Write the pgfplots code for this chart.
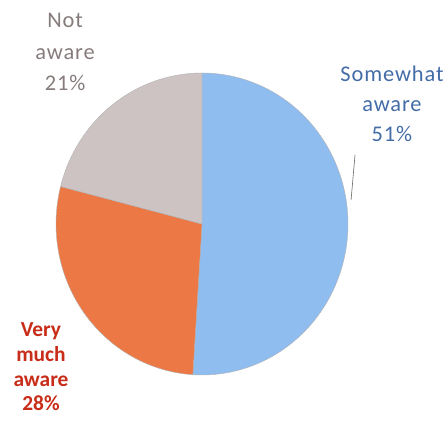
\documentclass[border=0pt]{standalone}
\usepackage{fontspec}
\setmainfont{Carlito}
\usepackage{pgfplots}
\usepackage{pgfplotstable}
\pgfplotsset{compat=1.18}
\definecolor{pieblue}{RGB}{143,189,240}
\definecolor{pieorange}{RGB}{236,120,70}
\definecolor{piegray}{RGB}{205,195,195}
\definecolor{txtblue}{RGB}{68,108,166}
\definecolor{txtred}{RGB}{200,45,25}
\definecolor{txtgray}{RGB}{135,124,124}
\pgfplotstableread{
label value
Somewhat 51
Very 28
Not 21
}\piedata
\tikzset{lblr/.style={anchor=base, font=\fontsize{22.5}{24}\selectfont\addfontfeature{LetterSpace=4}},
         lblb/.style={anchor=base, font=\fontsize{21.5}{23}\selectfont\bfseries}}
\begin{document}
\begin{tikzpicture}
\pgfplotstablegetelem{0}{value}\of\piedata \pgfmathsetmacro\va{\pgfplotsretval}
\pgfplotstablegetelem{1}{value}\of\piedata \pgfmathsetmacro\vb{\pgfplotsretval}
\pgfplotstablegetelem{2}{value}\of\piedata \pgfmathsetmacro\vc{\pgfplotsretval}
\pgfmathsetmacro\aA{90-3.6*\va}
\pgfmathsetmacro\aB{\aA-3.6*\vb}
\pgfmathsetmacro\aC{\aB-3.6*\vc}
\begin{axis}[
  x=146bp, y=151bp,
  xmin=-1.3836, xmax=1.6849, ymin=-1.3377, ymax=1.4834,
  enlargelimits=false, hide axis, clip=false,
]
\path (rel axis cs:0,0) rectangle (rel axis cs:1,1);
\addplot[fill=pieblue, draw=black!30, line width=0.4pt, domain=\aA:90, samples=120, variable=\t]
  ({cos(\t)},{sin(\t)}) -- (axis cs:0,0) -- cycle;
\addplot[fill=pieorange, draw=black!30, line width=0.4pt, domain=\aB:\aA, samples=80, variable=\t]
  ({cos(\t)},{sin(\t)}) -- (axis cs:0,0) -- cycle;
\addplot[fill=piegray, draw=black!30, line width=0.4pt, domain=\aC:\aB, samples=60, variable=\t]
  ({cos(\t)},{sin(\t)}) -- (axis cs:0,0) -- cycle;
\draw[black!60, line width=0.6pt] (axis cs:1.048,0.457) -- (axis cs:1.021,0.159);
\node[lblr, text=txtgray] at (axis cs:-0.938,1.298) {Not};
\node[lblr, text=txtgray] at (axis cs:-0.938,1.086) {aware};
\node[lblr, text=txtgray] at (axis cs:-0.938,0.881) {21\%};
\node[lblr, text=txtblue] at (axis cs:1.301,0.942) {Somewhat};
\node[lblr, text=txtblue] at (axis cs:1.301,0.744) {aware};
\node[lblr, text=txtblue] at (axis cs:1.301,0.545) {51\%};
\node[lblb, text=txtred] at (axis cs:-1.103,-0.746) {Very};
\node[lblb, text=txtred] at (axis cs:-1.103,-0.912) {much};
\node[lblb, text=txtred] at (axis cs:-1.103,-1.077) {aware};
\node[lblb, text=txtred] at (axis cs:-1.103,-1.232) {28\%};
\end{axis}
\end{tikzpicture}
\end{document}
